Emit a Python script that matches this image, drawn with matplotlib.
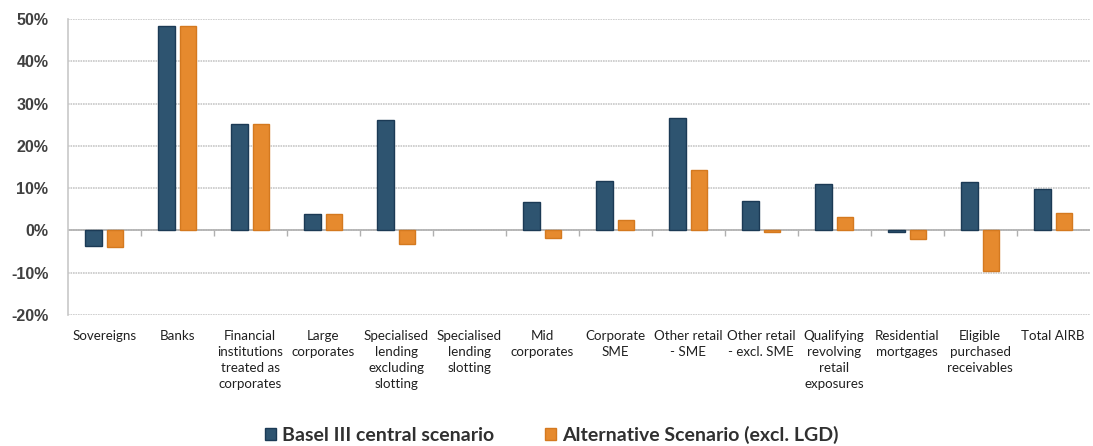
import matplotlib
matplotlib.use("Agg")
import matplotlib.pyplot as plt
import numpy as np

categories = ["Sovereigns", "Banks", "Financial\ninstitutions\ntreated as\ncorporates",
              "Large\ncorporates", "Specialised\nlending\nexcluding\nslotting",
              "Specialised\nlending\nslotting", "Mid\ncorporates", "Corporate\nSME",
              "Other retail\n- SME", "Other retail\n- excl. SME", "Qualifying\nrevolving\nretail\nexposures",
              "Residential\nmortgages", "Eligible\npurchased\nreceivables", "Total AIRB"]
basel = [-3.8, 48.3, 25.3, 3.8, 26.2, 0.0, 6.7, 11.8, 26.7, 6.9, 11.0, -0.3, 11.5, 9.8]
altern = [-4.0, 48.3, 25.3, 3.8, -3.2, 0.0, -1.8, 2.4, 14.4, -0.3, 3.2, -2.1, -9.5, 4.1]
series_names = ["Basel III central scenario", "Alternative Scenario (excl. LGD)"]
yticks = [-20, -10, 0, 10, 20, 30, 40, 50]

blue = "#2E5470"
blue_edge = "#1B3A55"
orange = "#E68A2E"
orange_edge = "#D4791F"

fig = plt.figure(figsize=(10.93, 4.46), dpi=100)
ax = fig.add_axes([0.062, 0.294, 0.935, 0.663])

x = np.arange(len(categories))
w = 0.225
off = 0.145
b1 = ax.bar(x - off, basel, w, color=blue, edgecolor=blue_edge, linewidth=1.0, label=series_names[0], zorder=3)
b2 = ax.bar(x + off, altern, w, color=orange, edgecolor=orange_edge, linewidth=1.0, label=series_names[1], zorder=3)
for bars, vals in ((b1, basel), (b2, altern)):
    for r, v in zip(bars, vals):
        if v == 0:
            r.set_linewidth(0)

ymin, ymax = -20, 50
ax.set_ylim(ymin, ymax)
ax.set_xlim(-0.5, len(categories) - 0.5)
ax.set_yticks(yticks)
ax.set_yticklabels([f"{v}%" for v in yticks], fontsize=11.5, fontweight="bold",
                   color="#404040", family="Liberation Sans")
ax.yaxis.grid(True, color="#c8c8c8", linewidth=1.2, linestyle=(0, (1, 0.5)), zorder=0)
ax.tick_params(axis="y", length=0, pad=14)
for s in ["top", "right", "bottom"]:
    ax.spines[s].set_visible(False)
ax.spines["left"].set_color("#c8c8c8")
ax.spines["left"].set_linewidth(1.2)

ax.set_xticks(x)
ax.set_xticklabels(categories, fontsize=9.6, family="Lato", color="#202020",
                   linespacing=1.4, va="top")
ax.tick_params(axis="x", length=0, pad=11)

ax.axhline(0, color="#b0b0b0", linewidth=1.2, zorder=2)
zero_loc = (0 - ymin) / (ymax - ymin)
sec = ax.secondary_xaxis(zero_loc)
sec.set_xticks(x[:-1] + 0.5)
sec.set_xticklabels([])
sec.tick_params(axis="x", direction="out", length=4, color="#b0b0b0", width=1)
sec.spines["bottom"].set_visible(False)
sec.spines["top"].set_visible(False)

leg = fig.legend(loc="lower center", bbox_to_anchor=(0.505, -0.035), ncol=2, frameon=False,
                 prop={"family": "Lato", "size": 14, "weight": "bold"},
                 handlelength=0.55, handleheight=0.55, handletextpad=0.35, columnspacing=2.6)
for t in leg.get_texts():
    t.set_color("#303030")

fig.savefig("out.png", dpi=100)
